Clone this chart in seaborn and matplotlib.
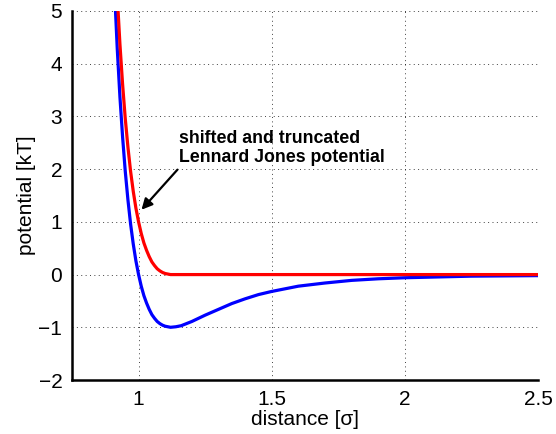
import matplotlib
matplotlib.use("Agg")
import matplotlib.pyplot as plt
import pandas as pd
import seaborn as sns

# distance in units of sigma, potential in kT
distance = [0.90, 0.91, 0.92, 0.93, 0.94, 0.95, 0.96, 0.97, 0.98, 0.99,
            1.00, 1.01, 1.02, 1.03, 1.04, 1.05, 1.06, 1.07, 1.08, 1.09,
            1.10, 1.11, 1.12, 1.14, 1.16, 1.18, 1.20, 1.25, 1.30, 1.35,
            1.40, 1.45, 1.50, 1.60, 1.70, 1.80, 1.90, 2.00, 2.25, 2.50]

lennard_jones = [6.64, 5.36, 4.28, 3.37, 2.61, 1.96, 1.42, 0.96, 0.58, 0.26,
                 0.00, -0.22, -0.40, -0.54, -0.66, -0.76, -0.83, -0.89, -0.93, -0.96,
                 -0.98, -0.99, -1.00, -0.99, -0.97, -0.93, -0.89, -0.77, -0.66, -0.55,
                 -0.46, -0.38, -0.32, -0.22, -0.16, -0.11, -0.08, -0.06, -0.03, -0.02]

shifted_truncated = [7.64, 6.36, 5.28, 4.37, 3.61, 2.96, 2.42, 1.96, 1.58, 1.26,
                     1.00, 0.78, 0.60, 0.46, 0.34, 0.24, 0.17, 0.11, 0.07, 0.04,
                     0.02, 0.01, 0.00, 0.00, 0.00, 0.00, 0.00, 0.00, 0.00, 0.00,
                     0.00, 0.00, 0.00, 0.00, 0.00, 0.00, 0.00, 0.00, 0.00, 0.00]

x_ticks = [1, 1.5, 2, 2.5]
x_tick_labels = ["1", "1.5", "2", "2.5"]
y_ticks = [-2, -1, 0, 1, 2, 3, 4, 5]

sns.set_style("white")
plt.rcParams["font.family"] = ["Liberation Sans", "DejaVu Sans"]
plt.rcParams["axes.unicode_minus"] = True
plt.rcParams["text.color"] = "black"

df = pd.DataFrame({
    "distance": distance * 2,
    "potential": lennard_jones + shifted_truncated,
    "curve": ["Lennard Jones"] * len(distance) + ["shifted and truncated"] * len(distance),
})

fig = plt.figure(figsize=(5.56, 4.34), dpi=100)
ax = fig.add_axes([0.1295, 0.1244, 0.8381, 0.8503])

sns.lineplot(data=df, x="distance", y="potential", hue="curve",
             palette={"Lennard Jones": "#0000ff", "shifted and truncated": "#ff0000"},
             linewidth=2.3, legend=False, ax=ax, sort=False, estimator=None)

ax.set_xlim(0.75, 2.5)
ax.set_ylim(-2, 5)
ax.set_xticks(x_ticks)
ax.set_xticklabels(x_tick_labels)
ax.set_yticks(y_ticks)

ax.grid(True, color="black", linestyle=(0, (1, 3.5)), linewidth=0.7, alpha=0.75)
ax.set_axisbelow(True)

for side in ("top", "right"):
    ax.spines[side].set_visible(False)
for side in ("left", "bottom"):
    ax.spines[side].set_linewidth(1.8)
    ax.spines[side].set_color("black")

ax.tick_params(direction="in", length=4, width=1.0, labelsize=15, colors="black", pad=7)
ax.set_xlabel("distance [σ]", fontsize=15, labelpad=1, color="black")
ax.set_ylabel("potential [kT]", fontsize=15, labelpad=2, color="black")

ax.text(1.153, 2.14, "shifted and truncated\nLennard Jones potential",
        fontsize=12.8, fontweight="bold", ha="left", va="baseline",
        linespacing=1.1, color="black")
ax.annotate("", xy=(1.011, 1.23), xytext=(1.146, 1.99),
            arrowprops=dict(arrowstyle="-|>", color="black", lw=1.6,
                            mutation_scale=16, shrinkA=0, shrinkB=0))

fig.savefig("out.png", dpi=100)
